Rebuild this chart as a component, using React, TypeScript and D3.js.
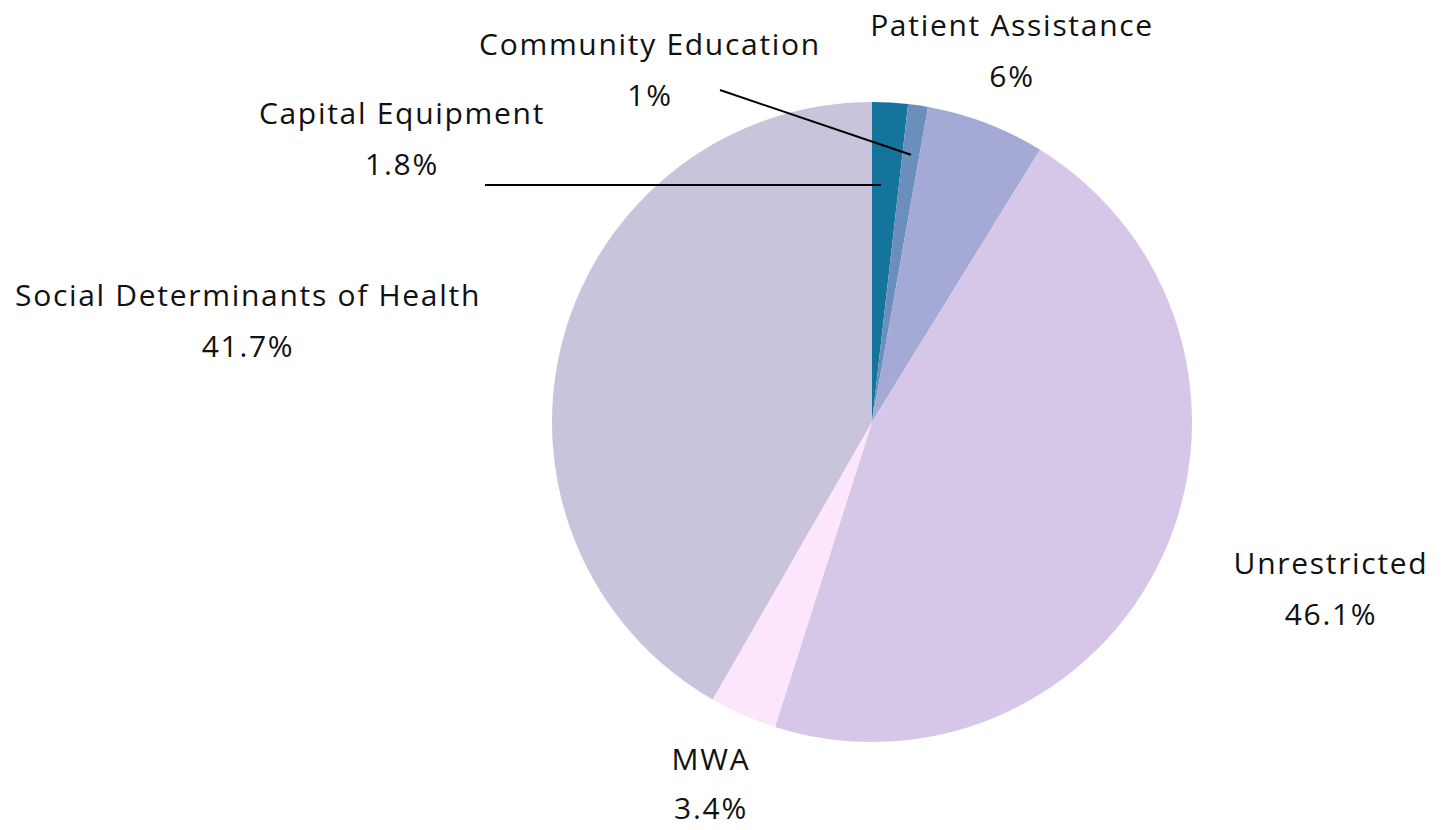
import React from "react";
import * as d3 from "d3";

const categories = [
  "Capital Equipment",
  "Community Education",
  "Patient Assistance",
  "Unrestricted",
  "MWA",
  "Social Determinants of Health",
];
const values = [1.8, 1, 6, 46.1, 3.4, 41.7];
const valueLabels = ["1.8%", "1%", "6%", "46.1%", "3.4%", "41.7%"];
const colors = ["#15749c", "#6a8fbd", "#a4a9d5", "#d6c7e9", "#fde6fc", "#cac3dc"];

// label layout (text center x, first baseline y) and optional leader line
const labelPos: [number, number][] = [
  [402, 124],
  [650, 55],
  [1012, 36],
  [1331, 574],
  [711, 770],
  [248, 306],
];
const leaders: ([number, number] | null)[] = [
  [485, 185],
  [720, 90],
  null,
  null,
  null,
  null,
];

const W = 1448;
const H = 830;
const cx = 872;
const cy = 422;
const R = 320;

export default function App() {
  const pie = d3.pie<number>().sort(null).value((d) => d)(values);
  const arc = d3.arc<d3.PieArcDatum<number>>().innerRadius(0).outerRadius(R);
  const font = "'Open Sans', sans-serif";
  return (
    <svg
      width={W}
      height={H}
      style={{ position: "absolute", left: 0, top: 0 }}
    >
      <rect width={W} height={H} fill="#ffffff" />
      <g transform={`translate(${cx},${cy})`}>
        {pie.map((p, i) => (
          <path key={i} d={arc(p) || ""} fill={colors[i]} />
        ))}
      </g>
      {pie.map((p, i) => {
        const l = leaders[i];
        if (!l) return null;
        const mid = (p.startAngle + p.endAngle) / 2;
        const rEnd = i === 0 ? 263 : 270;
        const ex = cx + Math.sin(mid) * rEnd;
        const ey = cy - Math.cos(mid) * rEnd;
        return (
          <line
            key={"l" + i}
            x1={l[0]}
            y1={l[1]}
            x2={i === 0 ? ex - 6 : ex}
            y2={i === 0 ? l[1] : ey}
            stroke="#000"
            strokeWidth={2}
          />
        );
      })}
      {categories.map((c, i) => (
        <text
          key={"t" + i}
          x={labelPos[i][0]}
          y={labelPos[i][1]}
          textAnchor="middle"
          fontFamily={font}
          fontSize={30}
          letterSpacing={1.7}
          fill="#111"
        >
          <tspan x={labelPos[i][0]}>{c}</tspan>
          <tspan x={labelPos[i][0]} dy={i === 4 ? 49 : 51}>
            {valueLabels[i]}
          </tspan>
        </text>
      ))}
    </svg>
  );
}
